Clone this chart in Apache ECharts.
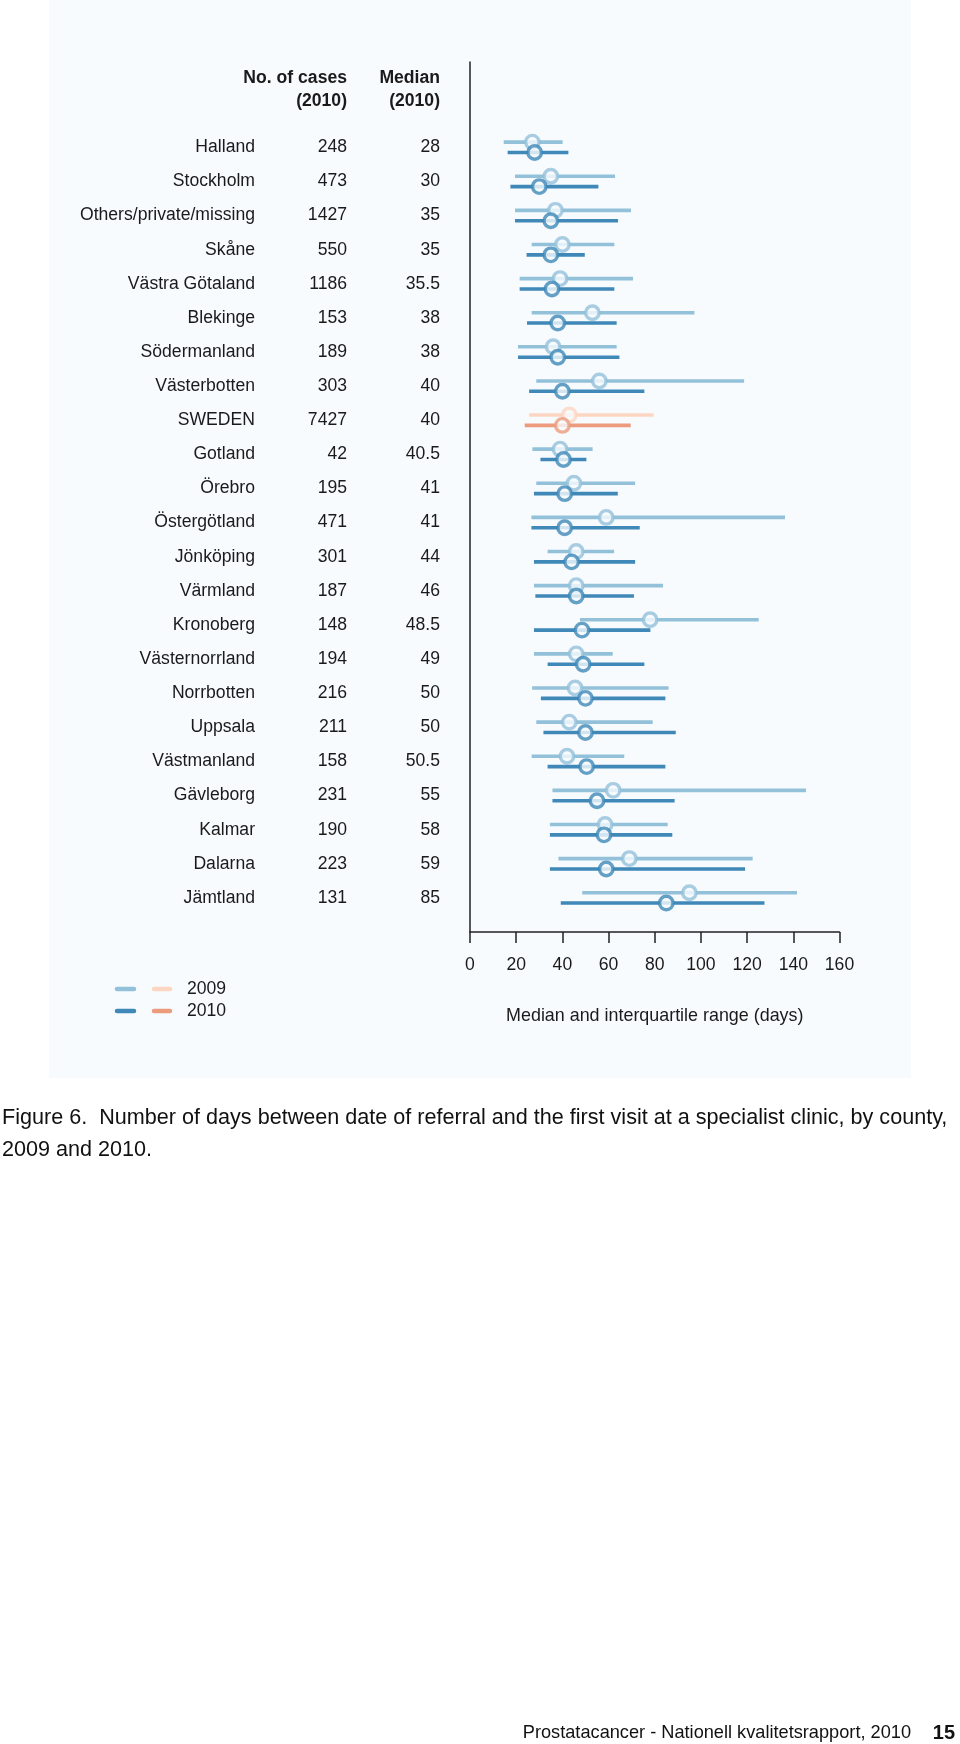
<!DOCTYPE html>
<html>
<head>
<meta charset="utf-8">
<script src="https://cdn.jsdelivr.net/npm/echarts@6/dist/echarts.min.js"></script>
<style>
  html, body { margin: 0; padding: 0; background: #ffffff; }
  #chart { width: 960px; height: 1744px; }
</style>
</head>
<body>
<div id="chart"></div>
<script>
// ---------- data ----------
const categories = ['Halland','Stockholm','Others/private/missing','Skåne','Västra Götaland','Blekinge','Södermanland','Västerbotten','SWEDEN','Gotland','Örebro','Östergötland','Jönköping','Värmland','Kronoberg','Västernorrland','Norrbotten','Uppsala','Västmanland','Gävleborg','Kalmar','Dalarna','Jämtland'];
const cases2010 = [248,473,1427,550,1186,153,189,303,7427,42,195,471,301,187,148,194,216,211,158,231,190,223,131];
const medianLabels2010 = ['28','30','35','35','35.5','38','38','40','40','40.5','41','41','44','46','48.5','49','50','50','50.5','55','58','59','85'];
const median2010 = [28,30,35,35,35.5,38,38,40,40,40.5,41,41,44,46,48.5,49,50,50,50.5,55,58,59,85];
const q1_2010 = [16.3,17.5,19.5,24.5,21.5,24.7,20.8,25.6,23.7,30.5,27.7,26.6,27.7,28.3,27.7,33.6,30.7,31.8,33.6,35.7,34.6,34.6,39.3];
const q3_2010 = [42.6,55.6,64.1,49.7,62.5,63.5,64.7,75.5,69.6,50.4,64.0,73.5,71.5,71.0,78.1,75.5,84.6,89.1,84.6,88.6,87.6,119.1,127.5];
const median2009 = [27,35,37,40,39,53,36,56,43,39,45,59,46,46,78,46,45.5,43,42,62,58.5,69,95];
const q1_2009 = [14.6,19.5,19.5,26.7,21.5,26.7,20.8,28.7,25.6,27.0,28.7,26.6,33.6,27.7,47.6,27.7,26.9,28.7,26.7,35.7,34.6,38.3,48.6];
const q3_2009 = [40.1,62.8,69.7,62.5,70.6,97.2,63.5,118.7,79.5,53.1,71.5,136.4,62.4,83.6,125.0,61.8,86.0,79.1,66.8,145.5,85.6,122.4,141.6];
const xTicks = [0,20,40,60,80,100,120,140,160];
const legendYears = ['2009','2010'];
const headerCases = ['No. of cases','(2010)'];
const headerMedian = ['Median','(2010)'];
const axisTitle = 'Median and interquartile range (days)';
const captionLines = ['Figure 6.  Number of days between date of referral and the first visit at a specialist clinic, by county,','2009 and 2010.'];
const footerText = 'Prostatacancer - Nationell kvalitetsrapport, 2010';
const pageNumber = '15';

// ---------- styles ----------
const FONT = '"Liberation Sans", Arial, Helvetica, sans-serif';
const PANEL_BG = '#f7fbfe';
const TEXT = '#1a1a1a';
const COL = {
  blue2009: '#93c1d9', blue2010: '#3f88b8',
  org2009: '#fcd6c2', org2010: '#ec9c7d'
};
const highlight = 'SWEDEN';
const OFF = 0.152; // half-gap between year lines, in row units

function colorFor(i, year) {
  const hl = categories[i] === highlight;
  if (year === 2009) return hl ? COL.org2009 : COL.blue2009;
  return hl ? COL.org2010 : COL.blue2010;
}

function rangeSeries(year, q1, q3, off, z) {
  return {
    type: 'custom', z: z, silent: true, clip: false,
    data: categories.map((c, i) => [q1[i], q3[i], i]),
    encode: { x: [0, 1], y: 2 },
    renderItem: function (params, api) {
      const i = api.value(2);
      const a = api.coord([api.value(0), i + off]);
      const b = api.coord([api.value(1), i + off]);
      return { type: 'line', shape: { x1: a[0], y1: a[1], x2: b[0], y2: b[1] },
        style: { stroke: colorFor(i, year), lineWidth: 3.6, lineCap: 'butt' } };
    }
  };
}
function medianSeries(year, med, off, z) {
  return {
    type: 'scatter', z: z, silent: true, symbol: 'circle', symbolSize: 13.5,
    data: med.map((m, i) => ({ value: [m, i + off],
      itemStyle: { color: PANEL_BG, borderColor: colorFor(i, year), borderWidth: 3.4 } }))
  };
}

const tableSeries = {
  type: 'custom', z: 5, silent: true, clip: false,
  data: categories.map((c, i) => [0, i]),
  encode: { x: 0, y: 1 },
  renderItem: function (params, api) {
    const i = api.value(1);
    const p = api.coord([0, i]);
    const st = (txt, dx) => ({ type: 'text', x: p[0] + dx, y: p[1],
      style: { text: txt, fill: TEXT, font: '17.6px ' + FONT, textAlign: 'right', textVerticalAlign: 'middle' } });
    return { type: 'group', children: [
      st(categories[i], -215), st(String(cases2010[i]), -123), st(medianLabels2010[i], -30)
    ] };
  }
};

const graphics = [
  { type: 'rect', z: -10, silent: true, shape: { x: 49, y: 0, width: 862, height: 1078 }, style: { fill: PANEL_BG } },
  // header
  { type: 'text', style: { text: headerCases[0], x: 347, y: 78, font: 'bold 17.6px ' + FONT, fill: TEXT, textAlign: 'right', textVerticalAlign: 'middle' } },
  { type: 'text', style: { text: headerCases[1], x: 347, y: 101, font: 'bold 17.6px ' + FONT, fill: TEXT, textAlign: 'right', textVerticalAlign: 'middle' } },
  { type: 'text', style: { text: headerMedian[0], x: 440, y: 78, font: 'bold 17.6px ' + FONT, fill: TEXT, textAlign: 'right', textVerticalAlign: 'middle' } },
  { type: 'text', style: { text: headerMedian[1], x: 440, y: 101, font: 'bold 17.6px ' + FONT, fill: TEXT, textAlign: 'right', textVerticalAlign: 'middle' } },
  // legend
  { type: 'line', shape: { x1: 117, y1: 989, x2: 134, y2: 989 }, style: { stroke: COL.blue2009, lineWidth: 4.5, lineCap: 'round' } },
  { type: 'line', shape: { x1: 154, y1: 989, x2: 170, y2: 989 }, style: { stroke: COL.org2009, lineWidth: 4.5, lineCap: 'round' } },
  { type: 'line', shape: { x1: 117, y1: 1011, x2: 134, y2: 1011 }, style: { stroke: COL.blue2010, lineWidth: 4.5, lineCap: 'round' } },
  { type: 'line', shape: { x1: 154, y1: 1011, x2: 170, y2: 1011 }, style: { stroke: COL.org2010, lineWidth: 4.5, lineCap: 'round' } },
  { type: 'text', style: { text: legendYears[0], x: 187, y: 989, font: '17.6px ' + FONT, fill: TEXT, textVerticalAlign: 'middle' } },
  { type: 'text', style: { text: legendYears[1], x: 187, y: 1011, font: '17.6px ' + FONT, fill: TEXT, textVerticalAlign: 'middle' } },
  // caption
  { type: 'text', style: { text: captionLines[0], x: 2, y: 1118, font: '21.6px ' + FONT, fill: '#111', textVerticalAlign: 'middle' } },
  { type: 'text', style: { text: captionLines[1], x: 2, y: 1150, font: '21.6px ' + FONT, fill: '#111', textVerticalAlign: 'middle' } },
  // footer
  { type: 'text', style: { text: footerText, x: 911, y: 1733, font: '18.2px ' + FONT, fill: '#111', textAlign: 'right', textVerticalAlign: 'middle' } },
  { type: 'text', style: { text: pageNumber, x: 955, y: 1733, font: 'bold 20px ' + FONT, fill: '#111', textAlign: 'right', textVerticalAlign: 'middle' } }
];

const chart = echarts.init(document.getElementById('chart'), null, { renderer: 'canvas' });
chart.setOption({
  animation: false,
  backgroundColor: '#ffffff',
  textStyle: { fontFamily: FONT },
  grid: { left: 470, top: 62, width: 369.5, height: 870, containLabel: false },
  xAxis: {
    type: 'value', min: xTicks[0], max: xTicks[xTicks.length - 1], interval: xTicks[1] - xTicks[0],
    axisLine: { show: true, onZero: false, lineStyle: { color: '#222', width: 1.5 } },
    axisTick: { show: true, length: 11, lineStyle: { color: '#222', width: 1.5 } },
    axisLabel: { show: true, margin: 24, fontSize: 17.6, color: TEXT, fontFamily: FONT },
    splitLine: { show: false },
    name: axisTitle, nameLocation: 'middle', nameGap: 75,
    nameTextStyle: { fontSize: 17.9, color: TEXT, fontFamily: FONT }
  },
  yAxis: {
    type: 'value', inverse: true, min: -2.5, max: 23,
    axisLine: { show: true, onZero: false, lineStyle: { color: '#222', width: 1.5 } },
    axisTick: { show: false }, axisLabel: { show: false }, splitLine: { show: false }
  },
  series: [
    rangeSeries(2009, q1_2009, q3_2009, -OFF, 1),
    medianSeries(2009, median2009, -OFF, 2),
    rangeSeries(2010, q1_2010, q3_2010, OFF, 3),
    medianSeries(2010, median2010, OFF, 4),
    tableSeries
  ],
  graphic: graphics
});
</script>
</body>
</html>
